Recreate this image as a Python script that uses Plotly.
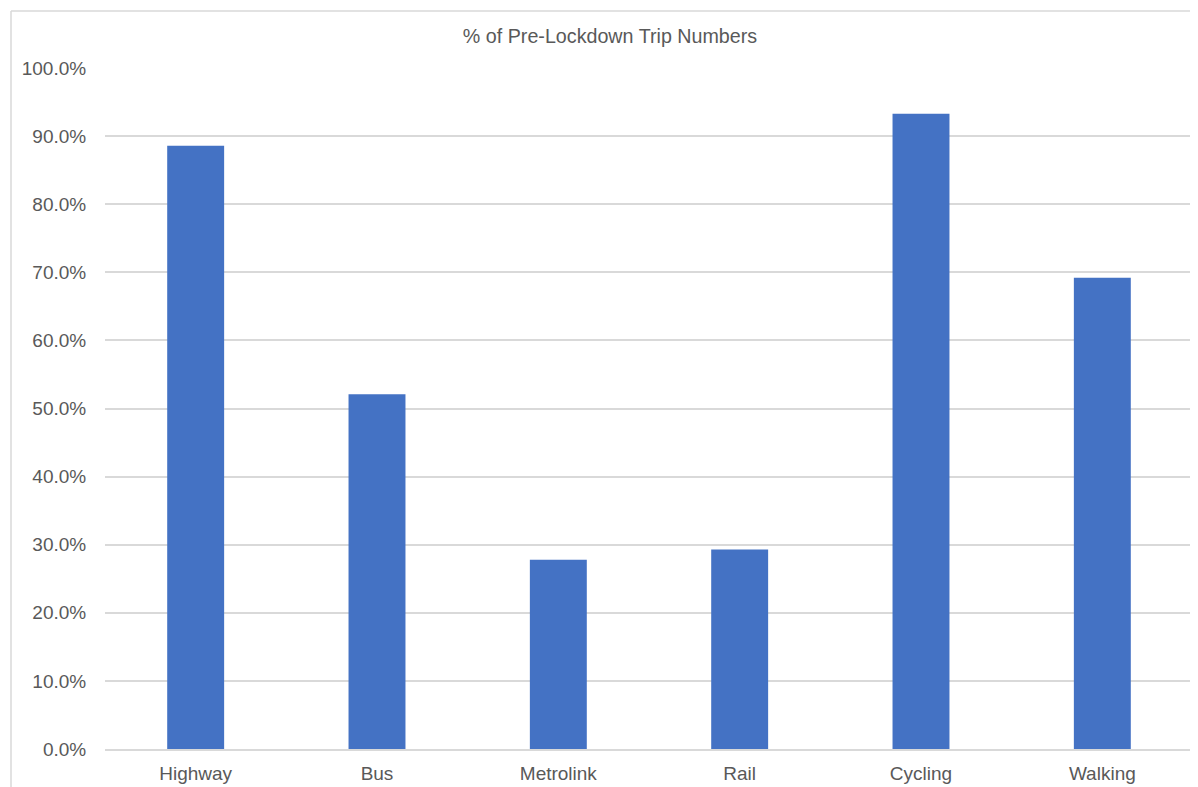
import plotly.graph_objects as go

categories = ["Highway", "Bus", "Metrolink", "Rail", "Cycling", "Walking"]
pct_of_pre_lockdown = [0.886, 0.521, 0.278, 0.293, 0.933, 0.692]
y_ticks = [0.0, 0.1, 0.2, 0.3, 0.4, 0.5, 0.6, 0.7, 0.8, 0.9, 1.0]
chart_title = "% of Pre-Lockdown Trip Numbers"

# page body has an 8px default margin; figure is sized to compensate
OFF = 8
W, H = 1190, 779
ml, mt = 105 - OFF, 68 - OFF
pw = 1088
ph = 681
mr = W - ml - pw
mb = H - mt - ph

text_color = "#595959"
grid_color = "#d9d9d9"
font_family = "Liberation Sans, Arial, sans-serif"

fig = go.Figure(
    go.Bar(
        x=categories,
        y=pct_of_pre_lockdown,
        marker=dict(color="#4472C4", line=dict(width=0)),
        hovertemplate="%{x}: %{y:.1%}<extra></extra>",
    )
)

# chart-area border (left and top edges visible in the crop)
bx = (11 - OFF - ml) / pw
by = (mt + ph - (11 - OFF)) / ph
fig.add_shape(type="line", xref="paper", yref="paper", x0=bx, x1=bx, y0=by, y1=-0.2,
              line=dict(color=grid_color, width=1.5))
fig.add_shape(type="line", xref="paper", yref="paper", x0=bx, x1=1.1, y0=by, y1=by,
              line=dict(color=grid_color, width=1.5))

fig.update_layout(
    width=W, height=H,
    margin=dict(l=ml, r=mr, t=mt, b=mb, pad=0, autoexpand=False),
    paper_bgcolor="white", plot_bgcolor="white",
    bargap=0.686,
    showlegend=False,
    font=dict(family=font_family, color=text_color, size=19),
    title=dict(text=chart_title, x=(610 - OFF - ml) / pw, xanchor="center", xref="paper",
               y=1 - (36 - OFF) / H, yanchor="middle", yref="container",
               font=dict(size=19.7, color=text_color, family=font_family)),
)

fig.update_xaxes(
    showgrid=False, showline=True, linecolor=grid_color, linewidth=1.5,
    ticks="outside", ticklen=6, tickcolor="rgba(0,0,0,0)", automargin=False,
    tickfont=dict(size=19, color=text_color), fixedrange=True,
)
fig.update_yaxes(
    range=[0, 1.0], tickvals=y_ticks, tickformat=".1%",
    showgrid=True, gridcolor=grid_color, gridwidth=1.5,
    zeroline=False, showline=False, automargin=False,
    ticks="outside", ticklen=14, tickcolor="rgba(0,0,0,0)",
    tickfont=dict(size=19, color=text_color), fixedrange=True,
)

fig.write_html("out.html")
